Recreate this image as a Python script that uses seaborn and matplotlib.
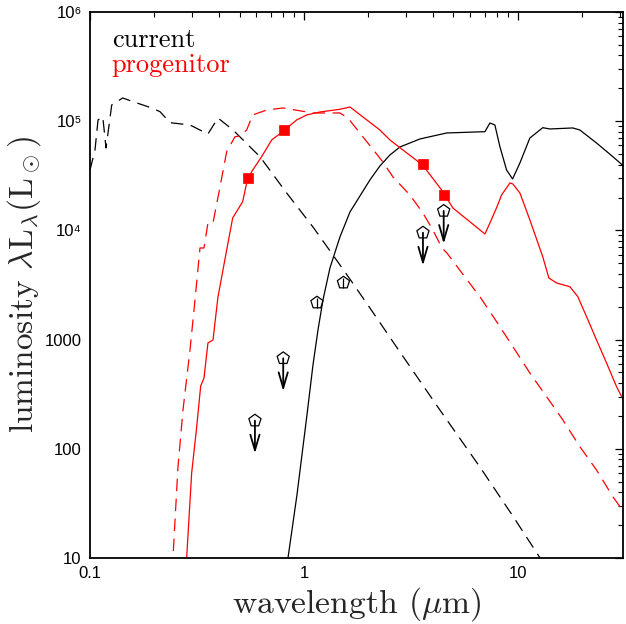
import numpy as np
import pandas as pd
import matplotlib
matplotlib.use("Agg")
import matplotlib.pyplot as plt
import seaborn as sns
from matplotlib.ticker import FixedLocator, FixedFormatter, LogLocator, NullFormatter

# ---------------- data (wavelength in micron, luminosity in Lsun) ----------------
cur_star_wl = [0.100, 0.1055, 0.109, 0.1147, 0.1188, 0.1263, 0.1421, 0.1589, 0.1942, 0.2124,
               0.2365, 0.2933, 0.3558, 0.3963, 0.4658, 0.6228, 0.830, 1.102, 1.366, 1.676,
               2.034, 2.810, 4.320, 6.645, 9.475, 12.53, 15.7]
cur_star_L = [35700, 54500, 102600, 109900, 56800, 140700, 163100, 150900, 132100, 122200,
              96900, 92300, 76300, 107000, 83100, 47300, 22000, 10740, 5953, 3370,
              1947, 770, 226.6, 68.1, 24.2, 10.4, 5.3]

cur_dust_wl = [0.80, 0.842, 0.879, 0.9275, 0.9787, 1.033, 1.102, 1.163, 1.227, 1.323, 1.473,
               1.641, 1.827, 2.034, 2.265, 2.523, 2.810, 3.484, 4.644, 7.014, 7.402, 7.807,
               8.241, 8.855, 9.446, 10.22, 11.38, 13.08, 14.11, 18.07, 19.49, 23.32, 27.8, 31.97]
cur_dust_L = [5.0, 10.0, 18.0, 37.8, 87.8, 204, 585, 1224, 2305, 4529, 8700,
              14740, 20650, 28950, 38890, 49050, 58040, 68710, 77980, 80140, 96270, 92300,
              58440, 35730, 29560, 41430, 70180, 87200, 84850, 86690, 83000, 63100, 47300, 37200]

prog_star_wl = [0.235, 0.2443, 0.2577, 0.2720, 0.2933, 0.3095, 0.3266, 0.3410, 0.3558, 0.3757,
                0.4050, 0.4353, 0.4760, 0.5023, 0.5398, 0.5756, 0.6694, 0.7978, 1.102, 1.473,
                1.605, 2.340, 2.606, 3.128, 3.597, 4.007, 4.415, 4.658, 5.654, 6.645, 7.953,
                9.475, 11.38, 13.62, 16.23, 19.49, 23.32, 27.8, 31.97]
prog_star_L = [5.0, 10.2, 68.1, 226.6, 803, 2305, 6900, 6900, 11690, 11690,
               24970, 52560, 72100, 73100, 83000, 114000, 126600, 132100, 118900, 118900,
               107000, 42300, 30840, 21100, 14430, 10080, 6900, 6210, 3744, 2470, 1459,
               861, 494, 300, 183.7, 104.5, 63.9, 36.4, 24.8]

prog_dust_wl = [0.27, 0.2831, 0.2986, 0.3152, 0.3291, 0.3410, 0.3558, 0.3757, 0.3963, 0.4353,
                0.4643, 0.5171, 0.5398, 0.5694, 0.6342, 0.7066, 0.8062, 0.9243, 1.0295, 1.188,
                1.473, 1.641, 2.265, 2.523, 2.901, 3.587, 4.400, 4.969, 7.014, 7.402, 7.953,
                8.392, 9.176, 9.475, 10.22, 11.38, 13.08, 13.96, 15.16, 17.5, 19.07, 20.94,
                23.32, 25.97, 28.92, 31.97]
prog_dust_L = [5.0, 10.2, 60, 158.4, 376, 445, 931, 991, 2455, 6615,
               12990, 18320, 27180, 34480, 47300, 67280, 81850, 102600, 114000, 121400,
               128500, 134900, 83000, 67280, 54480, 39700, 23440, 16030, 9270, 11690, 16140,
               21100, 27180, 26600, 22000, 12450, 5710, 3665, 3300, 3050, 2470, 1622,
               991, 611, 371, 252]

prog_phot_wl = [0.55, 0.81, 3.6, 4.5]
prog_phot_L = [30200, 83000, 40300, 21100]

cur_det_wl = [1.15, 1.53]
cur_det_L = [2180, 3320]

cur_lim_wl = [0.59, 0.80, 3.6, 4.5]
cur_lim_L = [181, 674, 9520, 15060]

x_ticks = [0.1, 1, 10]
x_ticklabels = ["0.1", "1", "10"]
y_ticks = [10, 100, 1000, 1e4, 1e5, 1e6]
y_ticklabels = ["10", "100", "1000", "10\u2074", "10\u2075", "10\u2076"]

# ---------------- style ----------------
sns.set_style("white")
plt.rcParams["font.family"] = ["Liberation Sans", "DejaVu Sans"]
plt.rcParams["mathtext.fontset"] = "cm"

fig = plt.figure(figsize=(6.26, 6.24), dpi=100)
ax = fig.add_axes([0.1438, 0.1058, 0.8514, 0.875])
ax.set_xscale("log")
ax.set_yscale("log")

dash = (0, (10, 6))
sns.lineplot(x=cur_star_wl, y=cur_star_L, sort=False, estimator=None, color="black",
             lw=0.9, linestyle=dash, ax=ax)
sns.lineplot(x=cur_dust_wl, y=cur_dust_L, sort=False, estimator=None, color="black",
             lw=0.9, ax=ax)
sns.lineplot(x=prog_star_wl, y=prog_star_L, sort=False, estimator=None, color="red",
             lw=0.9, linestyle=dash, ax=ax)
sns.lineplot(x=prog_dust_wl, y=prog_dust_L, sort=False, estimator=None, color="red",
             lw=0.9, ax=ax)

# progenitor photometry
ax.errorbar(prog_phot_wl, prog_phot_L, yerr=[np.array(prog_phot_L) * 0.08,
                                              np.array(prog_phot_L) * 0.09],
            fmt="none", ecolor="red", elinewidth=1.2, capsize=0, zorder=4)
sns.scatterplot(x=prog_phot_wl, y=prog_phot_L, marker="s", s=60, color="red",
                edgecolor="red", linewidth=0.5, ax=ax, zorder=5)

# current detections
ax.errorbar(cur_det_wl, cur_det_L, yerr=[np.array(cur_det_L) * 0.1,
                                         np.array(cur_det_L) * 0.11],
            fmt="none", ecolor="black", elinewidth=0.9, capsize=0, zorder=4)
sns.scatterplot(x=cur_det_wl, y=cur_det_L, marker="p", s=85, facecolor="none",
                edgecolor="black", linewidth=0.9, ax=ax, zorder=5)

# current upper limits
sns.scatterplot(x=cur_lim_wl, y=cur_lim_L, marker="p", s=85, facecolor="none",
                edgecolor="black", linewidth=0.9, ax=ax, zorder=5)
for wl, L in zip(cur_lim_wl, cur_lim_L):
    ax.annotate("", xy=(wl, L * 0.50), xytext=(wl, L),
                arrowprops=dict(arrowstyle="->,head_length=0.75,head_width=0.22",
                                lw=1.3, color="black", shrinkA=0, shrinkB=0,
                                mutation_scale=15), zorder=4)

# ---------------- axes ----------------
ax.set_xlim(0.1, 31.0)
ax.set_ylim(10, 1e6)

ax.xaxis.set_major_locator(FixedLocator(x_ticks))
ax.xaxis.set_major_formatter(FixedFormatter(x_ticklabels))
ax.xaxis.set_minor_locator(LogLocator(base=10, subs=np.arange(2, 10), numticks=20))
ax.xaxis.set_minor_formatter(NullFormatter())
ax.yaxis.set_major_locator(FixedLocator(y_ticks))
ax.yaxis.set_major_formatter(FixedFormatter(y_ticklabels))
ax.yaxis.set_minor_locator(LogLocator(base=10, subs=np.arange(2, 10), numticks=20))
ax.yaxis.set_minor_formatter(NullFormatter())

ax.tick_params(which="both", direction="in", top=True, right=True, colors="black",
               labelsize=12)
ax.tick_params(which="major", length=6, width=0.9, pad=6)
ax.tick_params(which="minor", length=3.5, width=0.8)
for sp in ax.spines.values():
    sp.set_linewidth(1.3)
    sp.set_color("black")

ax.set_xlabel(r"wavelength ($\mu$m)", fontfamily="cmr10", fontsize=24.2, labelpad=3)
ax.set_ylabel(r"luminosity $\lambda\mathrm{L}_\lambda(\mathrm{L}_\odot)$",
              fontfamily="cmr10", fontsize=24, labelpad=1)

ax.text(0.041, 0.936, "current", transform=ax.transAxes, fontfamily="cmr10",
        fontsize=19, color="black", va="baseline", ha="left")
ax.text(0.041, 0.890, "progenitor", transform=ax.transAxes, fontfamily="cmr10",
        fontsize=19, color="red", va="baseline", ha="left")

fig.savefig("out.png", dpi=100)
